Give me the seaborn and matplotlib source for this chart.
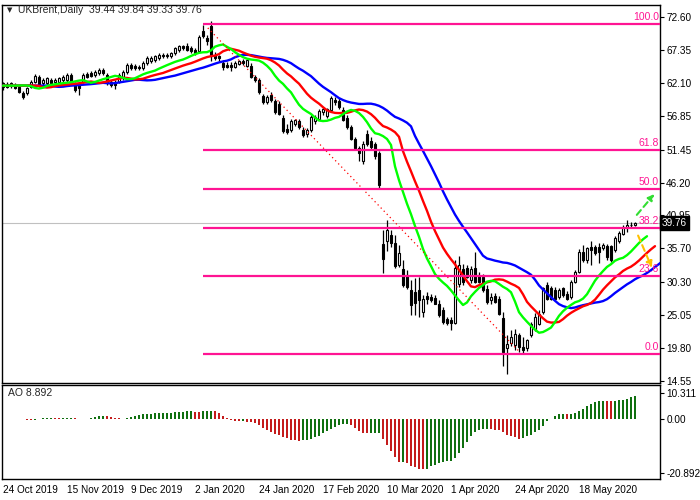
import numpy as np
import pandas as pd
import matplotlib
matplotlib.use("Agg")
import matplotlib.pyplot as plt
import matplotlib.transforms as mtrans
import seaborn as sns

# daily OHLC, bar 0 = 24 Oct 2019
opens = [61.5, 61.9, 61.6, 61.8, 61.5, 60.4, 60.4, 61.5, 62.3, 63.1,
         62.0, 62.0, 62.6, 62.3, 62.3, 62.6, 62.6, 63.4, 61.9, 61.8,
         62.3, 63.5, 63.6, 63.4, 63.6, 64.1, 63.4, 62.3, 62.2, 62.3,
         62.8, 63.9, 64.9, 64.8, 64.7, 64.4, 65.2, 65.5, 65.7, 66.0,
         66.6, 66.3, 66.3, 66.8, 67.3, 67.9, 67.9, 67.6, 67.3, 67.2,
         70.4, 69.3, 71.2, 66.6, 66.3, 65.3, 65.0, 64.9, 64.7, 65.1,
         65.6, 64.8, 64.8, 63.0, 62.5, 60.0, 59.0, 60.1, 59.2, 58.8,
         56.5, 54.8, 54.6, 55.5, 56.0, 54.6, 53.9, 54.6, 56.0, 56.4,
         57.4, 56.8, 57.8, 59.4, 59.2, 57.8, 56.5, 55.1, 53.2, 51.7,
         49.6, 54.0, 52.9, 52.3, 50.9, 36.4, 36.8, 37.8, 36.6, 33.05,
         32.4, 31.5, 29.0, 28.8, 29.1, 25.6, 28.1, 28.0, 27.8, 26.9,
         25.9, 24.5, 24.3, 23.75, 30.0, 32.4, 32.5, 30.7, 32.5, 31.3,
         31.2, 29.3, 27.5, 28.1, 27.7, 24.6, 19.8, 20.6, 20.3, 21.9,
         20.0, 19.8, 21.9, 22.9, 23.7, 25.6, 29.9, 29.3, 29.0, 28.0,
         29.3, 28.5, 28.0, 30.4, 32.0, 35.2, 33.85, 35.9, 35.9, 35.9,
         35.7, 36.0, 36.0, 35.4, 36.9, 38.0, 38.9, 39.5, 39.44]
highs = [62.3, 62.2, 62.2, 62.1, 61.8, 60.8, 61.5, 62.5, 63.5, 63.4,
         62.8, 63.0, 62.9, 62.8, 63.0, 63.4, 63.6, 63.6, 62.3, 62.3,
         63.6, 63.9, 64.0, 64.1, 64.4, 64.4, 63.6, 62.6, 62.5, 63.6,
         64.1, 65.3, 65.2, 65.1, 65.0, 65.5, 66.3, 66.4, 66.6, 66.8,
         66.9, 66.9, 67.0, 67.8, 68.2, 68.2, 68.4, 67.9, 67.6, 69.8,
         71.3, 69.7, 71.9, 67.0, 66.6, 65.7, 65.4, 65.4, 65.5, 65.7,
         65.9, 65.9, 65.2, 63.3, 62.8, 60.3, 60.1, 60.6, 59.5, 59.2,
         56.9, 55.6, 56.3, 56.4, 56.4, 55.1, 54.9, 57.0, 56.9, 57.9,
         58.2, 58.1, 60.0, 59.9, 59.6, 58.2, 56.9, 55.4, 53.5, 52.0,
         52.9, 54.6, 53.4, 52.6, 51.3, 38.6, 40.2, 38.6, 37.9, 36.2,
         33.9, 32.2, 30.6, 30.9, 31.2, 28.3, 28.8, 28.5, 28.3, 27.5,
         26.4, 24.8, 24.8, 33.8, 34.5, 33.2, 33.0, 32.9, 35.2, 32.0,
         31.6, 29.8, 28.6, 28.6, 28.1, 25.6, 21.9, 22.7, 22.9, 22.2,
         21.6, 21.3, 24.0, 25.4, 25.8, 29.6, 30.4, 29.7, 29.5, 29.4,
         29.6, 28.9, 30.7, 32.3, 35.6, 36.2, 35.9, 36.8, 36.2, 36.5,
         36.5, 36.4, 36.3, 37.6, 38.4, 39.5, 40.2, 39.9, 39.84]
lows = [61.0, 61.3, 61.3, 61.1, 60.5, 59.5, 60.1, 61.2, 62.0, 61.5,
        61.7, 61.8, 61.8, 62.0, 62.0, 62.3, 62.3, 62.0, 60.7, 60.2,
        62.0, 62.8, 63.0, 63.1, 63.3, 63.3, 61.8, 61.5, 61.1, 62.0,
        62.6, 63.5, 64.1, 64.1, 64.2, 64.1, 64.9, 65.2, 65.4, 65.7,
        66.0, 66.0, 66.0, 66.5, 67.0, 67.3, 67.1, 66.8, 66.5, 67.0,
        69.2, 68.2, 65.6, 65.7, 65.6, 64.2, 64.4, 64.0, 64.4, 64.9,
        65.0, 64.6, 62.8, 62.3, 60.3, 58.8, 58.7, 59.0, 57.1, 56.9,
        54.1, 54.0, 54.3, 55.2, 54.8, 53.4, 53.5, 54.3, 55.6, 56.1,
        57.0, 56.5, 57.5, 58.6, 58.0, 56.0, 54.8, 53.0, 51.5, 49.6,
        49.1, 52.0, 51.4, 50.0, 45.4, 31.7, 35.3, 35.9, 32.6, 32.7,
        29.6, 29.2, 25.1, 25.1, 24.8, 24.8, 26.9, 27.2, 26.8, 24.8,
        23.7, 23.5, 22.7, 23.6, 29.5, 29.9, 30.9, 30.2, 30.1, 30.1,
        28.8, 26.9, 26.9, 27.0, 25.1, 17.0, 15.6, 20.1, 19.5, 19.2,
        19.0, 19.3, 21.6, 22.6, 23.4, 25.3, 27.4, 27.5, 27.4, 27.6,
        27.9, 27.4, 27.7, 30.1, 31.8, 33.6, 33.4, 33.1, 34.6, 33.3,
        35.4, 33.9, 33.5, 35.1, 36.6, 37.8, 38.3, 39.1, 39.33]
closes = [62.0, 61.5, 62.0, 61.3, 60.7, 59.9, 61.3, 62.3, 63.2, 61.8,
          62.5, 62.8, 62.0, 62.5, 62.8, 63.1, 63.4, 62.3, 61.0, 61.2,
          63.3, 63.1, 63.2, 63.9, 64.1, 63.6, 62.0, 61.8, 61.8, 63.3,
          63.9, 64.9, 64.4, 64.4, 64.4, 65.2, 66.0, 66.1, 66.3, 66.5,
          66.3, 66.6, 66.8, 67.6, 67.9, 67.6, 67.3, 67.1, 66.8, 69.4,
          69.5, 68.8, 66.5, 66.1, 66.0, 64.7, 64.7, 64.7, 65.2, 65.5,
          65.2, 65.7, 63.0, 62.6, 60.6, 59.1, 59.8, 59.4, 57.4, 57.2,
          54.4, 54.3, 56.0, 56.2, 55.1, 53.7, 54.6, 56.7, 56.7, 57.6,
          57.9, 58.0, 59.6, 59.0, 58.3, 56.2, 55.1, 53.2, 51.7, 50.9,
          52.4, 52.4, 51.8, 50.4, 45.8, 33.95, 38.6, 36.5, 32.9, 35.0,
          29.9, 29.6, 26.7, 27.0, 27.5, 27.7, 27.7, 27.5, 26.9, 25.1,
          24.0, 23.85, 23.75, 32.5, 33.0, 30.4, 31.2, 32.4, 30.4, 30.4,
          29.1, 27.2, 28.0, 27.2, 25.3, 19.2, 20.4, 21.6, 22.1, 20.0,
          19.5, 21.1, 23.7, 24.8, 25.3, 29.3, 27.7, 27.7, 27.7, 29.1,
          28.3, 27.7, 30.4, 32.0, 35.2, 33.9, 35.7, 35.4, 34.9, 35.2,
          36.2, 34.3, 33.85, 37.3, 38.1, 39.1, 39.4, 39.4, 39.76]

date_labels = ["24 Oct 2019", "15 Nov 2019", "9 Dec 2019", "2 Jan 2020",
               "24 Jan 2020", "17 Feb 2020", "10 Mar 2020", "1 Apr 2020",
               "24 Apr 2020", "18 May 2020"]
price_ticks = [72.60, 67.35, 62.10, 56.85, 51.45, 46.20, 40.95, 35.70,
               30.30, 25.05, 19.80, 14.55]
ao_ticks = [10.311, 0.0, -20.892]
ao_tick_labels = ["10.311", "0.00", "-20.892"]
ao_shown = 8.892   # value printed in the AO panel header

# fibonacci retracement drawn on the chart
fib_high = 71.55
fib_low = 18.85
fib_start = 50
fib_levels = [0.0, 23.6, 38.2, 50.0, 61.8, 100.0]

# dotted trend line and forecast arrows (bar, price)
trend_bars = [51.2, 129.2]
trend_prices = [70.85, 19.15]
up_arrow = [(158.0, 40.7), (163.3, 44.7)]
down_arrow = [(158.5, 38.15), (162.5, 32.2)]

df = pd.DataFrame({"open": opens, "high": highs, "low": lows,
                   "close": closes})
df["bar"] = np.arange(len(df))
median = (df["high"] + df["low"]) / 2


def smma(s, period, shift):
    """Smoothed MA shifted forward, as in the Alligator indicator."""
    line = s.ewm(alpha=1.0 / period, adjust=False).mean()
    line = pd.concat([pd.Series([line.iloc[0]] * shift), line],
                     ignore_index=True)
    return pd.DataFrame({"bar": np.arange(len(line)), "value": line.values})


jaw = smma(median, 13, 8)
teeth = smma(median, 8, 5)
lips = smma(median, 5, 3)

# awesome oscillator
ao = (median.rolling(5, min_periods=1).mean()
      - median.rolling(34, min_periods=1).mean())
ao_up = ao.diff().fillna(0) >= 0
ao_df = pd.DataFrame({"bar": df["bar"], "ao": ao,
                      "col": np.where(ao_up, "up", "down")})

sns.set_style("white")
plt.rcParams["font.family"] = ["Liberation Sans", "DejaVu Sans"]
plt.rcParams["axes.linewidth"] = 1.0

W, H = 700, 500
fig = plt.figure(figsize=(7, 5), dpi=100)
ax = fig.add_axes([2 / W, 1 - 383 / H, 658 / W, 378 / H])
ax2 = fig.add_axes([2 / W, 1 - 479 / H, 658 / W, 94 / H])

x_left, x_right = -0.25, 164.25
pink = "#FF1493"
fs = 7.5
fs_axis = 7.2

# candles
up = df["close"] >= df["open"]
body_lo = df[["open", "close"]].min(axis=1)
body_h = (df["close"] - df["open"]).abs().clip(lower=0.08)
ax.vlines(df["bar"], df["low"], df["high"], color="black", lw=0.9,
          zorder=2)
ax.bar(df["bar"][up], body_h[up], bottom=body_lo[up], width=0.62,
       color="white", edgecolor="black", linewidth=0.8, zorder=3)
ax.bar(df["bar"][~up], body_h[~up], bottom=body_lo[~up], width=0.62,
       color="black", edgecolor="black", linewidth=0.8, zorder=3)

# current price line
ax.axhline(closes[-1], color="#C0C0C0", lw=0.8, zorder=1)

# alligator
sns.lineplot(data=jaw, x="bar", y="value", color="#0000FF", lw=1.7,
             ax=ax, zorder=4)
sns.lineplot(data=teeth, x="bar", y="value", color="#FF0000", lw=1.7,
             ax=ax, zorder=4)
sns.lineplot(data=lips, x="bar", y="value", color="#00FF00", lw=1.7,
             ax=ax, zorder=4)

# fibonacci
for lvl in fib_levels:
    price = fib_low + (fib_high - fib_low) * lvl / 100
    ax.hlines(price, fib_start, x_right, color=pink, lw=1.6, zorder=5)
    ax.text(x_right - 0.3, price + 0.25, "%.1f" % lvl, color=pink,
            fontsize=fs, ha="right", va="bottom", zorder=6)

ax.plot(trend_bars, trend_prices, color="red", lw=0.9, ls=(0, (1, 2.5)),
        zorder=4)
ax.annotate("", xy=up_arrow[1], xytext=up_arrow[0],
            arrowprops=dict(arrowstyle="-|>", color="#33DD33", lw=1.5,
                            ls=(0, (3, 2)), mutation_scale=9), zorder=6)
ax.annotate("", xy=down_arrow[1], xytext=down_arrow[0],
            arrowprops=dict(arrowstyle="-|>", color="#FFC000", lw=1.5,
                            ls=(0, (3, 2)), mutation_scale=9), zorder=6)

ax.set_xlim(x_left, x_right)
ax.set_ylim(14.23, 74.51)
ax.set_xlabel("")
ax.set_ylabel("")
ax.set_xticks([])
ax.yaxis.tick_right()
ax.set_yticks(price_ticks)
ax.set_yticklabels(["%.2f" % v for v in price_ticks])
ax.tick_params(axis="y", direction="out", length=3, width=0.8,
               labelsize=fs_axis, pad=1.5, colors="black")
for sp in ax.spines.values():
    sp.set_color("black")

# price marker on the right scale
trans = mtrans.blended_transform_factory(ax.transAxes, ax.transData)
ax.text(1.003, closes[-1], "%.2f" % closes[-1], transform=trans,
        color="white", fontsize=fs_axis, ha="left", va="center", zorder=7,
        bbox=dict(boxstyle="square,pad=0.2", fc="black", ec="black"))

# AO panel
sns.barplot(data=ao_df, x="bar", y="ao", hue="col",
            palette={"up": "#008000", "down": "#E00000"},
            native_scale=True, width=0.28, legend=False, ax=ax2,
            linewidth=0, dodge=False)
ax2.set_xlim(x_left, x_right)
ax2.set_ylim(-23.10, 13.29)
ax2.set_xlabel("")
ax2.set_ylabel("")
ax2.yaxis.tick_right()
ax2.set_yticks(ao_ticks)
ax2.set_yticklabels(ao_tick_labels)
ax2.set_xticks(np.arange(len(date_labels)) * 16)
ax2.set_xticklabels(date_labels, ha="left")
ax2.tick_params(axis="both", direction="out", length=3, width=0.8,
                labelsize=fs_axis, pad=1.5, colors="black")
for sp in ax2.spines.values():
    sp.set_color("black")
ax2.text(6 / 658, 1 - 8 / 94, "AO %.3f" % ao_shown,
         transform=ax2.transAxes, fontsize=fs, ha="left", va="center")

fig.text(10 / W, 1 - 10 / H, "\u25bc", fontsize=5, ha="center",
         va="center", family="DejaVu Sans")
fig.text(18 / W, 1 - 10 / H,
         "UKBrent,Daily  %.2f %.2f %.2f %.2f"
         % (opens[-1], highs[-1], lows[-1], closes[-1]),
         fontsize=fs, ha="left", va="center")

fig.savefig("out.png", dpi=100)
